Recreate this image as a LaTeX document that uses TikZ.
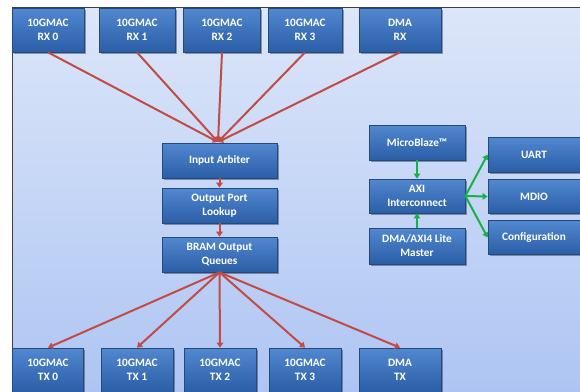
\documentclass[tikz,border=0pt]{standalone}
\usepackage{fontspec}
\setmainfont{Carlito}
\usetikzlibrary{arrows.meta,shadows}
\definecolor{bgtop}{HTML}{DCE6F9}
\definecolor{bgbot}{HTML}{AEC5F3}
\definecolor{boxtop}{HTML}{5288D0}
\definecolor{boxbot}{HTML}{2A5EA6}
\definecolor{boxedge}{HTML}{24497E}
\definecolor{linered}{HTML}{C24B45}
\definecolor{linegreen}{HTML}{17B04A}
\begin{document}
\begin{tikzpicture}[x=1pt,y=-1pt,
  blk/.style={draw=boxedge, line width=0.7pt, top color=boxtop, bottom color=boxbot,
    text=white, font=\fontsize{11.3}{14}\selectfont\bfseries, align=center, inner sep=0pt,
    drop shadow={shadow xshift=1.5pt, shadow yshift=-1.5pt, opacity=0.35, fill=black}},
  redarr/.style={draw=linered, line width=2pt, -{Triangle[length=5pt,width=6.5pt]}},
  grnarr/.style={draw=linegreen, line width=2pt, -{Triangle[length=5pt,width=6.5pt]}}]
\useasboundingbox (0,0) rectangle (580,391);
\fill[white] (0,0) rectangle (580,391);
\fill[top color=bgtop, bottom color=bgbot] (12,7) rectangle (580,391);
\draw[line width=1pt, black!75] (12,391) -- (12,7) -- (580,7);

% RX row
\node[blk, minimum width=72, minimum height=44] (rx0) at (48,30) {10GMAC\\RX 0};
\node[blk, minimum width=76, minimum height=44] (rx1) at (137,30) {10GMAC\\RX 1};
\node[blk, minimum width=77, minimum height=44] (rx2) at (222,30) {10GMAC\\RX 2};
\node[blk, minimum width=74, minimum height=44] (rx3) at (305,30) {10GMAC\\RX 3};
\node[blk, minimum width=82, minimum height=44] (dmarx) at (400,30) {DMA\\RX};

% middle column
\node[blk, minimum width=115, minimum height=35] (ia) at (219.5,160.5) {Input Arbiter};
\node[blk, minimum width=115, minimum height=35] (opl) at (219.5,205.5) {Output Port\\Lookup};
\node[blk, minimum width=115, minimum height=35] (bram) at (219.5,254.5) {BRAM Output\\Queues};
\coordinate (conv) at (218,142);

% right cluster
\node[blk, minimum width=96, minimum height=35] (mb) at (417,142.5) {MicroBlaze™};
\node[blk, minimum width=96, minimum height=34] (axi) at (417,196) {AXI\\Interconnect};
\node[blk, minimum width=96, minimum height=36] (dmam) at (417,246) {DMA/AXI4 Lite\\Master};
\node[blk, minimum width=92, minimum height=35] (uart) at (534,154.5) {UART};
\node[blk, minimum width=92, minimum height=34] (mdio) at (534,196.5) {MDIO};
\node[blk, minimum width=92, minimum height=34] (cfg) at (534,237.5) {Configuration};

% TX row
\node[blk, minimum width=71, minimum height=44] (tx0) at (48,370) {10GMAC\\TX 0};
\node[blk, minimum width=72, minimum height=44] (tx1) at (137,370) {10GMAC\\TX 1};
\node[blk, minimum width=72, minimum height=44] (tx2) at (220,370) {10GMAC\\TX 2};
\node[blk, minimum width=72, minimum height=44] (tx3) at (305,370) {10GMAC\\TX 3};
\node[blk, minimum width=82, minimum height=44] (dmatx) at (400,370) {DMA\\TX};

% red connectors
\foreach \n in {rx0,rx1,rx2,rx3,dmarx} \draw[redarr] (\n.south) -- (conv);
\draw[redarr] (ia.south) -- (opl.north);
\draw[redarr] (opl.south) -- (bram.north);
\foreach \n in {tx0,tx1,tx2,tx3,dmatx} \draw[redarr] (bram.south) -- (\n.north);

% green connectors
\draw[grnarr] (mb.south) -- (axi.north);
\draw[grnarr] (dmam.north) -- (axi.south);
\draw[grnarr] (axi.east) -- (uart.west);
\draw[grnarr] (axi.east) -- (mdio.west);
\draw[grnarr] (axi.east) -- (cfg.west);
\end{tikzpicture}
\end{document}
